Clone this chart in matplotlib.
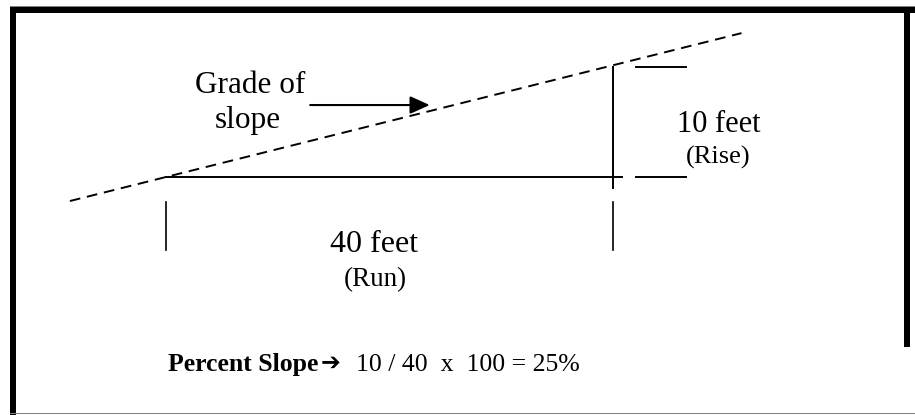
import matplotlib
matplotlib.use("Agg")
import matplotlib.pyplot as plt
from matplotlib.patches import Rectangle

# slope example values
run_ft = 40
rise_ft = 10
run_label = "40 feet"
run_note = "(Run)"
rise_label = "10 feet"
rise_note = "(Rise)"
grade_label = ["Grade of", "slope"]
formula_bold = "Percent Slope"
formula_rest = "10 / 40  x  100 = 25%"

W, H = 915, 415
px_per_ft = 11.175
x0_px, y0_px = 166, 177   # where the run starts on the picture

serif = ["Liberation Serif", "DejaVu Serif"]

fig = plt.figure(figsize=(W / 100, H / 100), dpi=100)
ax = fig.add_axes([0, 0, 1, 1])
ax.set_xlim(-x0_px / px_per_ft, (W - x0_px) / px_per_ft)
ax.set_ylim(-(H - y0_px) / px_per_ft, y0_px / px_per_ft)
ax.axis("off")

slope = rise_ft / run_ft

# grade line (dashed)
gx = [-8.6, 51.5]
ax.plot(gx, [x * slope for x in gx], color="black", lw=1.4,
        linestyle=(0, (5.5, 3.5)), dash_capstyle="butt")

# run line and rise line
ax.plot([0, run_ft + 0.8], [0, 0], color="black", lw=1.4)
ax.plot([run_ft, run_ft], [-1.0, rise_ft - 0.15], color="black", lw=1.4)

# run markers below
for xm in (0, run_ft):
    ax.plot([xm, xm], [-2.2, -6.5], color="black", lw=1.2)

# rise markers at the side
for ym in (0, rise_ft - 0.2):
    ax.plot([run_ft + 2.1, run_ft + 6.5], [ym, ym], color="black", lw=1.4)

# labels
ax.text(7.5, 7.5, grade_label[0], ha="center", va="baseline",
        family=serif, fontsize=22.5)
ax.text(7.3, 4.4, grade_label[1], ha="center", va="baseline",
        family=serif, fontsize=22.5)
ax.annotate("", xy=(23.6, 6.44), xytext=(12.9, 6.44),
            arrowprops=dict(arrowstyle="-|>,head_length=0.6,head_width=0.27",
                            color="black", lw=1.5, mutation_scale=20,
                            shrinkA=0, shrinkB=0))

ax.text(49.5, 4.0, rise_label, ha="center", va="baseline",
        family=serif, fontsize=22)
ax.text(49.4, 1.16, rise_note, ha="center", va="baseline",
        family=serif, fontsize=19)
ax.text(18.6, -6.7, run_label, ha="center", va="baseline",
        family=serif, fontsize=23)
ax.text(18.7, -9.75, run_note, ha="center", va="baseline",
        family=serif, fontsize=19.5)

# formula at the bottom
ax.text(0.18, -17.4, formula_bold, ha="left", va="baseline",
        family=serif, fontsize=18.5, fontweight="bold")
ax.text(13.8, -17.3, "\u2794", ha="left", va="baseline",
        family=["DejaVu Sans"], fontsize=17)
ax.text(17.0, -17.4, formula_rest, ha="left", va="baseline",
        family=serif, fontsize=18.5)

# frame around the picture
def bar(x, y, w, h, color):
    fig.add_artist(Rectangle((x / W, 1 - (y + h) / H), w / W, h / H,
                             transform=fig.transFigure, color=color, lw=0))

bar(10, 6, W - 10, 1, "#808080")
bar(10, 7, W - 10, 6, "black")
bar(10, 7, 6, H - 7, "black")
bar(W - 11, 7, 6, 340, "black")
bar(10, H - 2, W - 10, 1, "#808080")

fig.savefig("out.png", dpi=100)
